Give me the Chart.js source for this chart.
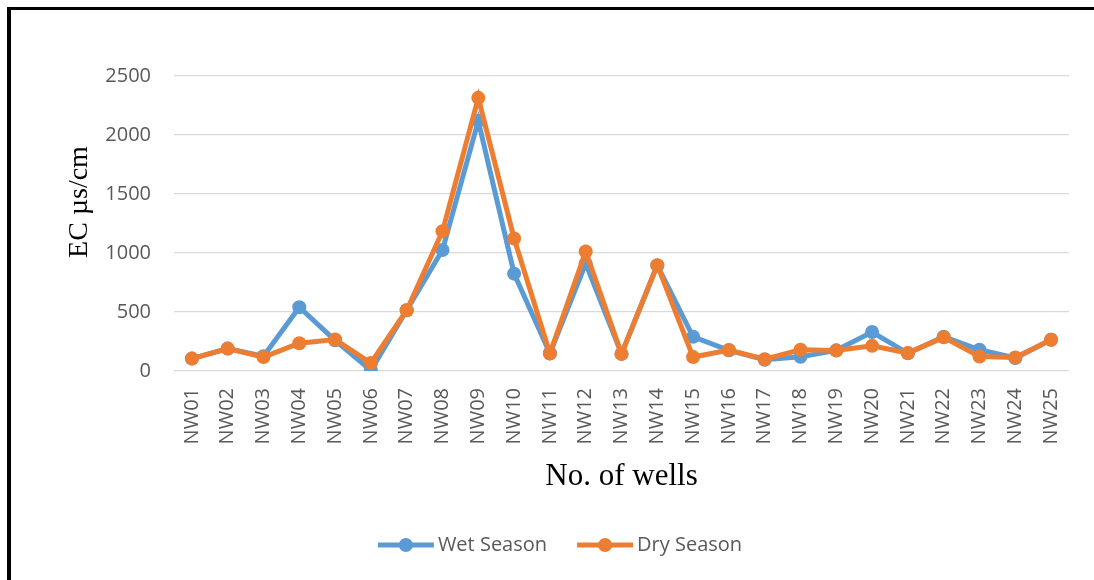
<!DOCTYPE html>
<html>
<head>
<meta charset="utf-8">
<script src="https://cdn.jsdelivr.net/npm/chart.js@4/dist/chart.umd.min.js"></script>
<style>
  html, body { margin: 0; padding: 0; background: #fff; }
  #wrap { position: relative; width: 1094px; height: 580px; overflow: hidden; }
  #frame { position: absolute; left: 7px; top: 7px; width: 1200px; height: 700px;
           border-left: 4px solid #000; border-top: 3px solid #000; pointer-events: none; }
</style>
</head>
<body>
<div id="wrap">
  <canvas id="ec-chart" width="1094" height="580"></canvas>
  <div id="frame"></div>
</div>
<script>
// wells
const wells = ['NW01','NW02','NW03','NW04','NW05','NW06','NW07','NW08','NW09','NW10',
  'NW11','NW12','NW13','NW14','NW15','NW16','NW17','NW18','NW19','NW20',
  'NW21','NW22','NW23','NW24','NW25'];

// EC values
const wetSeason = [105, 190, 125, 540, 260, 5, 515, 1025, 2120, 825,
  150, 910, 145, 895, 290, 175, 95, 120, 175, 330,
  150, 290, 180, 110, 265];
const drySeason = [105, 190, 118, 235, 267, 68, 515, 1185, 2315, 1123,
  148, 1013, 145, 897, 118, 178, 100, 180, 173, 213,
  152, 285, 122, 115, 265];

const yTicks = [0, 500, 1000, 1500, 2000, 2500];

const tickFont = { family: '"Open Sans", sans-serif', size: 20 };
const tickColor = '#595959';

// y title drawn by hand since Excel puts it off-centre
const yTitlePlugin = {
  id: 'yTitle',
  afterDraw(chart) {
    const ctx = chart.ctx;
    ctx.save();
    ctx.translate(87, 202);
    ctx.rotate(-Math.PI / 2);
    ctx.font = '28px "Liberation Serif", "Times New Roman", serif';
    ctx.fillStyle = '#000';
    ctx.textAlign = 'center';
    ctx.textBaseline = 'alphabetic';
    ctx.fillText('EC µs/cm', 0, 0);
    ctx.restore();
  }
};

// line + marker legend like Excel
const legendPlugin = {
  id: 'lineLegend',
  afterDraw(chart) {
    const ctx = chart.ctx;
    const sets = chart.data.datasets;
    const symW = 56, gapText = 4, gapItem = 30, cy = 545;
    ctx.save();
    ctx.font = '20px "Open Sans", sans-serif';
    let total = 0;
    sets.forEach((ds, i) => {
      total += symW + gapText + ctx.measureText(ds.label).width;
      if (i < sets.length - 1) total += gapItem;
    });
    let x = 560 - total / 2;
    sets.forEach(ds => {
      ctx.strokeStyle = ds.borderColor;
      ctx.lineWidth = 5;
      ctx.beginPath();
      ctx.moveTo(x, cy);
      ctx.lineTo(x + symW, cy);
      ctx.stroke();
      ctx.fillStyle = ds.borderColor;
      ctx.beginPath();
      ctx.arc(x + symW / 2, cy, 7, 0, Math.PI * 2);
      ctx.fill();
      ctx.fillStyle = tickColor;
      ctx.textAlign = 'left';
      ctx.textBaseline = 'middle';
      ctx.fillText(ds.label, x + symW + gapText, cy);
      x += symW + gapText + ctx.measureText(ds.label).width + gapItem;
    });
    ctx.restore();
  }
};

const ctx = document.getElementById('ec-chart');
new Chart(ctx, {
  type: 'line',
  data: {
    labels: wells,
    datasets: [{
      label: 'Wet Season',
      data: wetSeason,
      borderColor: '#5B9BD5',
      backgroundColor: '#5B9BD5',
      borderWidth: 5,
      pointRadius: 7,
      pointBorderWidth: 0,
      pointBackgroundColor: '#5B9BD5',
      tension: 0,
      order: 1
    }, {
      label: 'Dry Season',
      data: drySeason,
      borderColor: '#ED7D31',
      backgroundColor: '#ED7D31',
      borderWidth: 5,
      pointRadius: 7,
      pointBorderWidth: 0,
      pointBackgroundColor: '#ED7D31',
      tension: 0,
      order: 0
    }]
  },
  options: {
    responsive: false,
    animation: false,
    layout: { padding: { left: 0, top: 76, right: 25, bottom: 85 } },
    plugins: {
      legend: { display: false },
      tooltip: { enabled: false }
    },
    scales: {
      x: {
        offset: true,
        grid: { display: false, drawTicks: false },
        border: { display: false },
        ticks: { color: tickColor, font: tickFont, minRotation: 90, maxRotation: 90, padding: 17, autoSkip: false },
        title: {
          display: true,
          text: 'No. of wells',
          color: '#000',
          font: { family: '"Liberation Serif", "Times New Roman", serif', size: 31 },
          padding: 0
        },
        afterFit(scale) { scale.height = 124; }
      },
      y: {
        min: 0,
        max: 2500,
        afterBuildTicks(scale) { scale.ticks = yTicks.map(v => ({ value: v })); },
        grid: { color: '#d9d9d9', lineWidth: 1.3, drawTicks: false },
        border: { display: false },
        ticks: { color: tickColor, font: tickFont, padding: 23, callback: v => String(v) },
        afterFit(scale) { scale.width = 174; }
      }
    }
  },
  plugins: [yTitlePlugin, legendPlugin]
});
</script>
</body>
</html>
